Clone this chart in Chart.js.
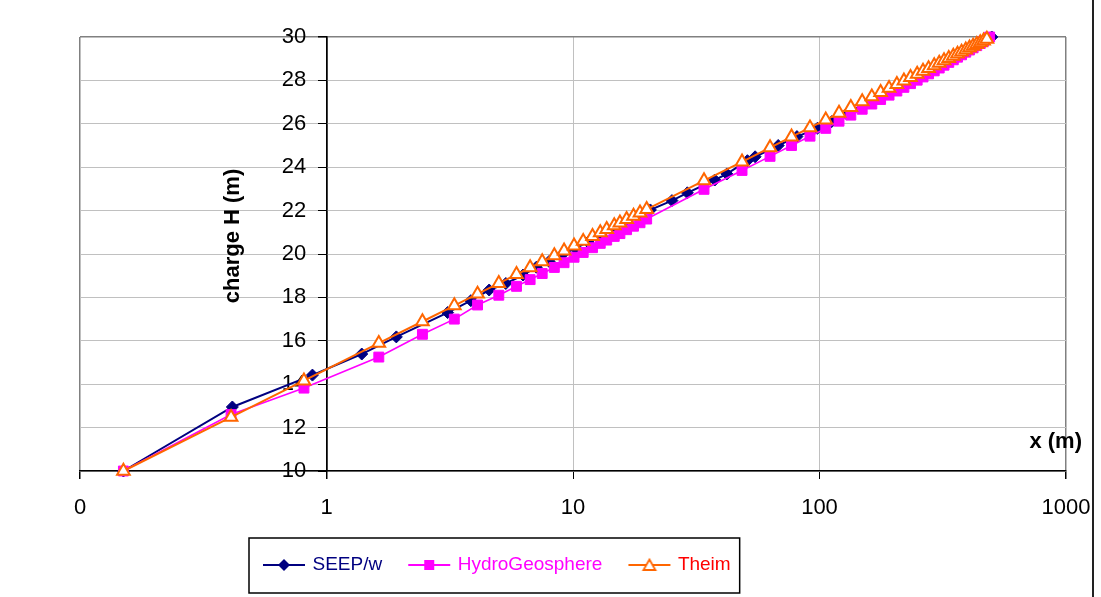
<!DOCTYPE html>
<html>
<head>
<meta charset="utf-8">
<script src="https://cdn.jsdelivr.net/npm/chart.js@4.4.0/dist/chart.umd.min.js"></script>
<style>
html,body{margin:0;padding:0;background:#fff;}
#wrap{position:relative;width:1101px;height:597px;}
</style>
</head>
<body>
<div id="wrap"><canvas id="c"></canvas></div>
<script>
// ---------------- data ----------------
const seriesNames = ['SEEP/w', 'HydroGeosphere', 'Theim'];

const seepX = [0.15, 0.415, 0.877, 1.39, 1.92, 3.1, 3.85, 4.57, 5.34, 6.27,
  7.1, 8.0, 9.0, 10.2, 11.5, 13.0, 14.6, 16.5, 18.5, 20.6,
  25.2, 29.1, 37.6, 42.1, 51, 54.8, 68, 81, 98, 112,
  129, 150, 175, 200, 230, 260, 295, 330, 370, 410,
  455, 500];
const seepY = [10.0, 12.95, 14.42, 15.39, 16.18, 17.3, 17.85, 18.34, 18.64, 19.03,
  19.39, 19.66, 19.95, 20.26, 20.55, 20.86, 21.14, 21.45, 21.73, 22.03,
  22.46, 22.82, 23.41, 23.69, 24.3, 24.48, 25.0, 25.41, 25.79, 26.1,
  26.45, 26.89, 27.27, 27.60, 27.94, 28.25, 28.56, 28.87, 29.17, 29.44,
  29.73, 30.0];

const hydroX = [0.15, 0.41, 0.81, 1.63, 2.45, 3.3, 4.1, 5.0, 5.9, 6.7,
  7.5, 8.4, 9.2, 10.1, 11.0, 12.0, 12.9, 13.7, 14.7, 15.5,
  16.5, 17.6, 18.7, 19.9, 34, 48.5, 63, 77, 91.5, 106,
  120, 134, 149, 163, 177, 191.5, 206, 220, 234, 249,
  263, 277, 292, 306, 320, 334.5, 349, 363, 377, 392,
  406, 420, 434.5, 449, 463, 490];
const hydroY = [10.0, 12.6, 13.82, 15.25, 16.3, 17.0, 17.65, 18.10, 18.51, 18.82,
  19.10, 19.38, 19.60, 19.85, 20.07, 20.29, 20.49, 20.64, 20.81, 20.94,
  21.12, 21.28, 21.44, 21.61, 22.98, 23.85, 24.5, 25.0, 25.43, 25.79,
  26.12, 26.4, 26.67, 26.91, 27.12, 27.32, 27.51, 27.68, 27.85, 28.01,
  28.16, 28.3, 28.44, 28.57, 28.7, 28.83, 28.95, 29.07, 29.18, 29.3,
  29.4, 29.5, 29.6, 29.7, 29.8, 30.0];

const theimX = [0.15, 0.41, 0.81, 1.63, 2.45, 3.3, 4.1, 5.0, 5.9, 6.7,
  7.5, 8.4, 9.2, 10.1, 11.0, 12.0, 12.9, 13.7, 14.7, 15.5,
  16.5, 17.6, 18.7, 19.9, 34, 48.5, 63, 77, 91.5, 106,
  120, 134, 149, 163, 177, 191.5, 206, 220, 234, 249,
  263, 277, 292, 306, 320, 334.5, 349, 363, 377, 392,
  406, 420, 434.5, 449, 463, 477.5];
const theimY = [10.00, 12.48, 14.16, 15.89, 16.89, 17.62, 18.16, 18.65, 19.06, 19.37,
  19.65, 19.93, 20.15, 20.38, 20.59, 20.81, 20.99, 21.14, 21.31, 21.44,
  21.60, 21.75, 21.90, 22.06, 23.38, 24.25, 24.90, 25.40, 25.82, 26.18,
  26.49, 26.76, 27.02, 27.25, 27.45, 27.64, 27.82, 27.98, 28.14, 28.29,
  28.43, 28.55, 28.68, 28.80, 28.91, 29.02, 29.12, 29.22, 29.31, 29.41,
  29.50, 29.58, 29.66, 29.74, 29.82, 29.90];

const xTickValues = [0.1, 1, 10, 100, 1000];
const xTickLabels = ['0', '1', '10', '100', '1000'];
const yMin = 10, yMax = 30, yStep = 2;
const xTitle = 'x (m)';
const yTitle = 'charge H (m)';

// ---------------- styling ----------------
const FONT = '"Liberation Sans", Arial, Helvetica, sans-serif';
const NAVY = '#000080', MAGENTA = '#FF00FF', ORANGE = '#FF6600', RED = '#FF0000';
const Y_LABEL_GAP = '   \u200A'; // pushes right-aligned y labels away from the axis line

function pts(xs, ys) { return xs.map((x, i) => ({x: x, y: ys[i]})); }

function legendIcon(color, kind) {
  const c = document.createElement('canvas');
  c.width = 44; c.height = 16;
  const g = c.getContext('2d');
  g.strokeStyle = color; g.lineWidth = 2;
  g.beginPath(); g.moveTo(1, 8); g.lineTo(43, 8); g.stroke();
  g.beginPath();
  if (kind === 'diamond') {
    g.fillStyle = color;
    g.moveTo(22, 2); g.lineTo(28, 8); g.lineTo(22, 14); g.lineTo(16, 8); g.closePath(); g.fill();
  } else if (kind === 'square') {
    g.fillStyle = color;
    g.rect(17, 3, 10, 10); g.fill();
  } else {
    g.fillStyle = '#fff';
    g.moveTo(22, 2.5); g.lineTo(28, 13); g.lineTo(16, 13); g.closePath(); g.fill();
    g.lineWidth = 1.8; g.stroke();
  }
  return c;
}
const icons = [legendIcon(NAVY, 'diamond'), legendIcon(MAGENTA, 'square'), legendIcon(ORANGE, 'triangle')];
const legendTextColors = [NAVY, MAGENTA, RED];

const extras = {
  id: 'extras',
  afterLayout(chart) {
    const lg = chart.legend;
    if (lg) { lg.left = 237; lg.top = 527.5; lg.bottom = lg.top + lg.height; }
  },
  afterDraw(chart) {
    const ctx = chart.ctx;
    ctx.save();
    const lg = chart.legend;
    const hb = lg.legendHitBoxes;
    if (hb && hb.length) {
      const l = hb[0].left - 16;
      const last = hb[hb.length - 1];
      const r = last.left + last.width + 9;
      ctx.strokeStyle = '#000';
      ctx.lineWidth = 1.5;
      ctx.strokeRect(l, 538, r - l, 55);
    }
    ctx.fillStyle = '#000';
    ctx.font = 'bold 22px ' + FONT;
    ctx.textAlign = 'right';
    ctx.textBaseline = 'middle';
    ctx.fillText(xTitle, 1082, 442);
    ctx.save();
    ctx.translate(233, 236);
    ctx.rotate(-Math.PI / 2);
    ctx.textAlign = 'center';
    ctx.fillText(yTitle, 0, 0);
    ctx.restore();
    ctx.fillStyle = '#222';
    ctx.fillRect(1092, 0, 2, 597);
    ctx.restore();
  }
};

Chart.defaults.font.family = FONT;
Chart.defaults.color = '#000';

new Chart(document.getElementById('c'), {
  type: 'scatter',
  data: {
    datasets: [
      {
        label: seriesNames[0], data: pts(seepX, seepY), showLine: true, order: 3,
        borderColor: NAVY, borderWidth: 2, backgroundColor: NAVY,
        pointStyle: 'rectRot', pointRadius: 6, pointBorderWidth: 1,
        pointBackgroundColor: NAVY, pointBorderColor: NAVY, clip: false
      },
      {
        label: seriesNames[1], data: pts(hydroX, hydroY), showLine: true, order: 2,
        borderColor: MAGENTA, borderWidth: 1.6, backgroundColor: MAGENTA,
        pointStyle: 'rect', pointRadius: 7, pointBorderWidth: 1,
        pointBackgroundColor: MAGENTA, pointBorderColor: MAGENTA, clip: false
      },
      {
        label: seriesNames[2], data: pts(theimX, theimY), showLine: true, order: 1,
        borderColor: ORANGE, borderWidth: 2, backgroundColor: '#fff',
        pointStyle: 'triangle', pointRadius: 7.3, pointBorderWidth: 2,
        pointBackgroundColor: '#fff', pointBorderColor: ORANGE, clip: false
      }
    ]
  },
  options: {
    responsive: true,
    maintainAspectRatio: false,
    animation: false,
    devicePixelRatio: 1,
    layout: { autoPadding: false, padding: { left: 80, top: 37, right: 35, bottom: 14.5 } },
    scales: {
      x: {
        type: 'logarithmic',
        position: 'bottom',
        min: 0.1, max: 1000,
        afterBuildTicks: (s) => { s.ticks = xTickValues.map(v => ({value: v})); },
        afterFit: (s) => { const ch = s.chart; s.height = ch.height - 14.5 - ch.legend.height - 471; },
        ticks: {
          autoSkip: false, maxRotation: 0, padding: 0,
          font: { size: 22, lineHeight: '57px' },
          callback: (v, i) => xTickLabels[i]
        },
        grid: {
          drawOnChartArea: true, drawTicks: true, tickLength: 8, tickColor: '#000',
          color: (c) => {
            const v = c.tick ? c.tick.value : null;
            if (v === 1) return '#000';
            if (v === 0.1 || v === 1000) return '#808080';
            return '#c0c0c0';
          },
          lineWidth: (c) => {
            const v = c.tick ? c.tick.value : null;
            return (v === 0.1 || v === 1000 || v === 1) ? 1.5 : 1;
          }
        },
        border: { display: true, color: '#000', width: 1.5 },
        title: { display: false }
      },
      y: {
        type: 'linear',
        position: { x: 1 },
        min: yMin, max: yMax,
        ticks: { stepSize: yStep, padding: 12, font: { size: 22 },
          callback: (v) => String(v) + Y_LABEL_GAP },
        grid: {
          drawOnChartArea: true, drawTicks: true, tickLength: 8, tickColor: '#000',
          color: (c) => (c.tick && c.tick.value === yMax) ? '#808080' : '#c0c0c0',
          lineWidth: (c) => (c.tick && c.tick.value === yMax) ? 1.5 : 1
        },
        border: { display: true, color: '#000', width: 1.5 },
        title: { display: false }
      }
    },
    plugins: {
      tooltip: { enabled: false },
      legend: {
        display: true,
        position: 'bottom',
        align: 'start',
        labels: {
          usePointStyle: true,
          pointStyleWidth: 38,
          padding: 28,
          font: { size: 19 },
          generateLabels: (chart) => chart.data.datasets.map((ds, i) => ({
            text: ds.label,
            fillStyle: ds.borderColor,
            strokeStyle: ds.borderColor,
            lineWidth: 0,
            pointStyle: icons[i],
            fontColor: legendTextColors[i],
            hidden: false,
            datasetIndex: i
          }))
        }
      }
    }
  },
  plugins: [extras]
});
</script>
</body>
</html>
